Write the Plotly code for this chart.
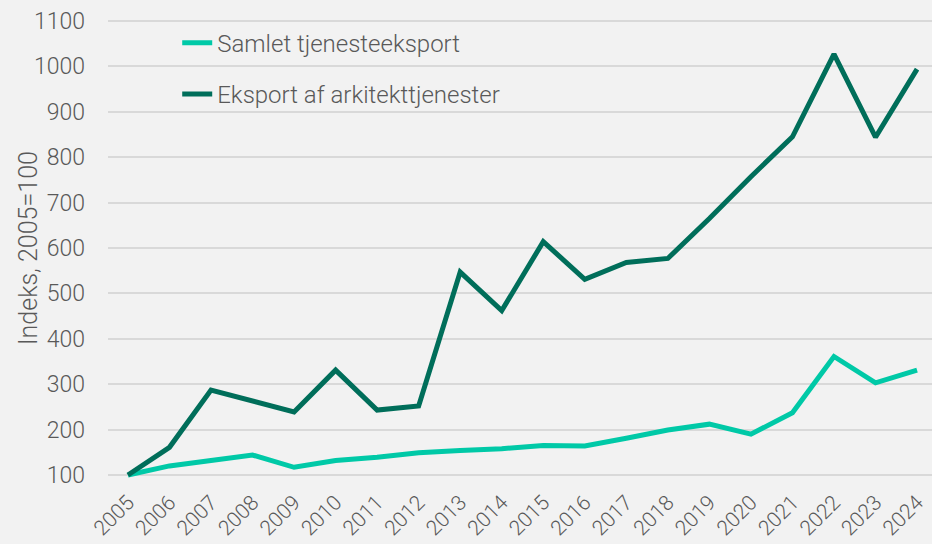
import plotly.graph_objects as go

years = list(range(2005, 2025))
samlet = [100, 120, 132, 144, 117, 132, 139, 149, 154, 158, 165, 164, 181, 199, 212, 190, 237, 361, 303, 331]
arkitekt = [100, 161, 287, 263, 239, 331, 243, 252, 547, 462, 614, 531, 568, 577, 665, 757, 845, 1027, 844, 994]
names = ["Samlet tjenesteeksport", "Eksport af arkitekttjenester"]
colors = ["#00c9a7", "#006e5a"]
y_title = "Indeks, 2005=100"

FONT = "Roboto"
GRAY = "#595959"

fig = go.Figure()
for i, (nm, vals) in enumerate(zip(names, [samlet, arkitekt])):
    fig.add_trace(go.Scatter(
        x=years, y=vals, mode="lines", name=nm, legendgroup=f"g{i}",
        line=dict(color=colors[i], width=5),
    ))

fig.update_layout(
    width=932, height=544,
    paper_bgcolor="#f2f2f2", plot_bgcolor="#f2f2f2",
    margin=dict(l=108, r=0, t=16, b=64, autoexpand=False),
    font=dict(family=FONT, size=23, color=GRAY, weight=300),
    showlegend=True,
    legend=dict(
        x=0.084, y=0.99, xanchor="left", yanchor="top",
        bgcolor="rgba(0,0,0,0)", tracegroupgap=17,
        font=dict(family=FONT, size=24, color=GRAY, weight=300),
    ),
    xaxis=dict(
        range=[2004.52, 2024.36], tickmode="array", tickvals=years,
        ticktext=[str(y) for y in years], tickangle=-45,
        showgrid=False, zeroline=False, showline=False, automargin=False,
        ticklabelstandoff=5,
        tickfont=dict(family=FONT, size=21, color=GRAY, weight=300),
    ),
    yaxis=dict(
        range=[89, 1111], tick0=100, dtick=100,
        showgrid=True, gridcolor="#d9d9d9", gridwidth=2,
        zeroline=False, showline=False, automargin=False,
        ticklabelstandoff=22,
        tickfont=dict(family=FONT, size=23, color=GRAY, weight=300),
    ),
    annotations=[dict(
        text=y_title, xref="paper", yref="paper", x=-0.097, y=0.5,
        xanchor="center", yanchor="middle", textangle=-90, showarrow=False,
        font=dict(family=FONT, size=25, color=GRAY, weight=300),
    )],
)

fig.write_html("out.html", post_script="document.body.style.margin='0';",
               config={"displayModeBar": False})
